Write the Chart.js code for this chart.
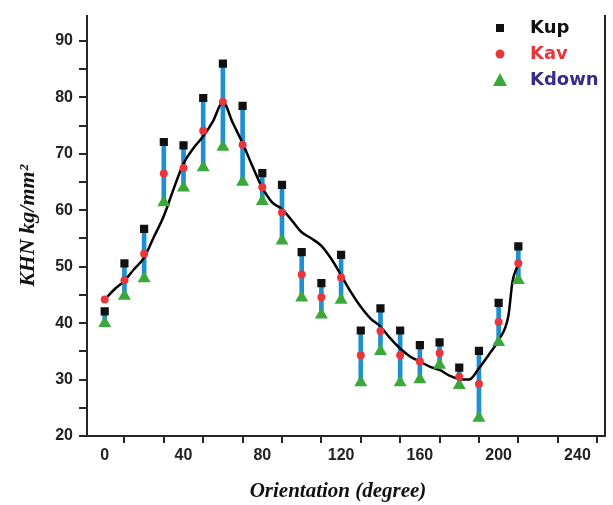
<!DOCTYPE html>
<html>
<head>
<meta charset="utf-8">
<script src="https://cdn.jsdelivr.net/npm/chart.js@4"></script>
<style>
    html, body { margin: 0; padding: 0; background: #fff; }
    #wrap { width: 613px; height: 505px; position: relative; }
</style>
</head>
<body>
<div id="wrap"><canvas id="khnChart" width="613" height="505"></canvas></div>
<script>
// orientation angles (degree)
const angles = [0, 10, 20, 30, 40, 50, 60, 70, 80, 90, 100, 110, 120, 130, 140, 150, 160, 170, 180, 190, 200, 210];
const kUp   = [42.1, 50.6, 56.7, 72.1, 71.5, 79.9, 86.0, 78.5, 66.6, 64.5, 52.6, 47.1, 52.1, 38.7, 42.6, 38.7, 36.1, 36.6, 32.1, 35.1, 43.6, 53.6];
const kAv   = [44.2, 47.6, 52.3, 66.5, 67.5, 74.1, 79.2, 71.6, 64.1, 59.6, 48.6, 44.6, 48.1, 34.3, 38.6, 34.3, 33.2, 34.7, 30.5, 29.2, 40.2, 50.6];
const kDown = [40.0, 44.8, 47.9, 61.4, 64.0, 67.6, 71.2, 65.0, 61.6, 54.6, 44.5, 41.5, 44.1, 29.5, 35.0, 29.5, 30.0, 32.6, 29.0, 23.2, 36.6, 47.6];

// black trend curve
const fitX = [0, 5, 10, 15, 20, 25, 30, 35, 40, 45, 50, 55, 60, 65, 70, 75, 80, 85, 90, 95, 100, 105, 110, 115, 120, 125, 130, 135, 140, 145, 150, 155, 160, 165, 170, 175, 180, 185, 190, 195, 200, 205, 207, 210];
const fitY = [44.2, 46.0, 47.5, 49.6, 51.6, 55.3, 59.0, 63.8, 68.3, 71.0, 73.1, 75.8, 79.2, 75.5, 71.9, 67.8, 64.0, 61.4, 60.2, 58.2, 56.1, 55.0, 53.7, 51.4, 48.5, 45.5, 42.9, 40.8, 39.4, 37.3, 35.5, 34.1, 33.2, 32.3, 31.7, 30.7, 30.1, 30.0, 32.0, 34.4, 37.0, 41.4, 47.3, 50.5];

const xTicks = [0, 20, 40, 60, 80, 100, 120, 140, 160, 180, 200, 220, 240];
const yTicks = [20, 25, 30, 35, 40, 45, 50, 55, 60, 65, 70, 75, 80, 85, 90];

const legendItems = [
    { label: 'Kup', style: 'rect', fill: '#111111', text: '#111111' },
    { label: 'Kav', style: 'circle', fill: '#e8363c', text: '#e8363c' },
    { label: 'Kdown', style: 'triangle', fill: '#3aa83a', text: '#3a2c86' }
];

const toPts = (xs, ys) => xs.map((x, i) => ({ x: x, y: ys[i] }));

const axisColor = '#262626';

const decorPlugin = {
    id: 'decor',
    afterDraw(chart) {
        const ctx = chart.ctx;
        const area = chart.chartArea;
        ctx.save();
        // axis titles
        ctx.fillStyle = '#111';
        ctx.textAlign = 'center';
        ctx.textBaseline = 'middle';
        ctx.font = 'italic bold 21px "Liberation Serif", "DejaVu Serif", serif';
        ctx.fillText('Orientation (degree)', 338, 492);
        ctx.font = 'italic bold 22px "Liberation Serif", "DejaVu Serif", serif';
        ctx.translate(28, (area.top + area.bottom) / 2);
        ctx.rotate(-Math.PI / 2);
        ctx.fillText('KHN kg/mm\u00B2', 0, 0);
        ctx.restore();

        // legend
        ctx.save();
        ctx.font = 'bold 18px "DejaVu Sans", sans-serif';
        ctx.textAlign = 'left';
        ctx.textBaseline = 'middle';
        legendItems.forEach((it, i) => {
            const y = 28 + i * 26;
            ctx.fillStyle = it.fill;
            ctx.beginPath();
            if (it.style === 'rect') {
                ctx.rect(496, y - 4, 8, 8);
            } else if (it.style === 'circle') {
                ctx.arc(500, y, 4.5, 0, Math.PI * 2);
            } else {
                ctx.moveTo(500, y - 7);
                ctx.lineTo(507, y + 6);
                ctx.lineTo(493, y + 6);
                ctx.closePath();
            }
            ctx.fill();
            ctx.fillStyle = it.text;
            ctx.fillText(it.label, 530, y);
        });
        ctx.restore();
    }
};

const ctx = document.getElementById('khnChart').getContext('2d');
new Chart(ctx, {
    type: 'scatter',
    data: {
        datasets: [
            {
                type: 'bar',
                label: 'range',
                data: angles.map((a, i) => ({ x: a, y: [kDown[i], kUp[i]] })),
                backgroundColor: '#1e8fd0',
                borderWidth: 0,
                barThickness: 4,
                grouped: false,
                order: 5
            },
            {
                type: 'line',
                label: 'fit',
                data: toPts(fitX, fitY),
                borderColor: '#000',
                borderWidth: 2.5,
                pointRadius: 0,
                cubicInterpolationMode: 'monotone',
                fill: false,
                order: 4
            },
            {
                label: 'Kdown',
                data: toPts(angles, kDown),
                pointStyle: 'triangle',
                pointRadius: 7.5,
                backgroundColor: '#3aa83a',
                borderColor: '#3aa83a',
                borderWidth: 0,
                order: 3
            },
            {
                label: 'Kav',
                data: toPts(angles, kAv),
                pointStyle: 'circle',
                pointRadius: 4,
                backgroundColor: '#e8363c',
                borderColor: '#e8363c',
                borderWidth: 0,
                order: 2
            },
            {
                label: 'Kup',
                data: toPts(angles, kUp),
                pointStyle: 'rect',
                pointRadius: 5.8,
                backgroundColor: '#111',
                borderColor: '#111',
                borderWidth: 0,
                order: 1
            }
        ]
    },
    options: {
        responsive: false,
        animation: false,
        layout: { padding: { top: 11, left: 0, right: 0, bottom: 0 } },
        plugins: {
            legend: { display: false },
            tooltip: { enabled: false }
        },
        scales: {
            x: {
                type: 'linear',
                min: -9,
                max: 254,
                offset: false,
                afterBuildTicks: (scale) => { scale.ticks = xTicks.map(v => ({ value: v })); },
                afterFit: (scale) => { scale.height = 69; },
                border: { display: true, color: axisColor, width: 2 },
                grid: { drawOnChartArea: false, drawTicks: true, tickLength: 7, color: axisColor, lineWidth: 2 },
                ticks: {
                    color: '#222',
                    font: { family: '"Liberation Sans", Arial, sans-serif', size: 16, weight: 'bold' },
                    padding: 3,
                    maxRotation: 0,
                    autoSkip: false,
                    callback: (v) => (v % 40 === 0 ? String(v) : '')
                }
            },
            y: {
                type: 'linear',
                min: 20,
                max: 94.5,
                afterBuildTicks: (scale) => { scale.ticks = yTicks.map(v => ({ value: v })); },
                afterFit: (scale) => { scale.width = 87; },
                border: { display: true, color: axisColor, width: 2 },
                grid: { drawOnChartArea: false, drawTicks: true, tickLength: 8, color: axisColor, lineWidth: 2 },
                ticks: {
                    color: '#222',
                    font: { family: '"Liberation Sans", Arial, sans-serif', size: 16, weight: 'bold' },
                    padding: 6,
                    autoSkip: false,
                    callback: (v) => (v % 10 === 0 ? String(v) : '')
                }
            },
            y2: {
                type: 'linear',
                position: 'right',
                min: 20,
                max: 94.5,
                afterFit: (scale) => { scale.width = 8; },
                border: { display: true, color: axisColor, width: 2 },
                grid: { display: false, drawTicks: false },
                ticks: { display: false }
            }
        }
    },
    plugins: [decorPlugin]
});
</script>
</body>
</html>
